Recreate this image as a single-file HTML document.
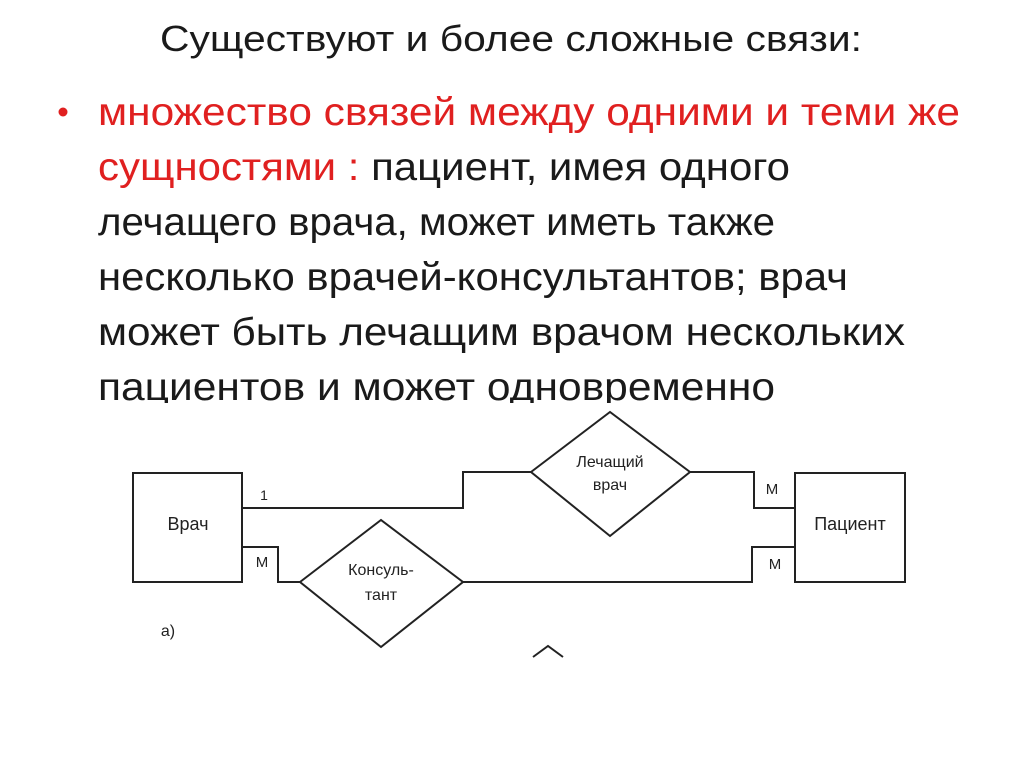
<!DOCTYPE html>
<html><head><meta charset="utf-8"><style>
html,body{margin:0;padding:0;background:#fff;width:1024px;height:767px;overflow:hidden}
svg{display:block}
</style></head><body>
<svg width="1024" height="767" viewBox="0 0 1024 767" xmlns="http://www.w3.org/2000/svg">
<rect width="1024" height="767" fill="#fff"/>
<g font-family="Liberation Sans, sans-serif" fill="#1a1a1a">
<text x="160" y="51" font-size="36" textLength="702" lengthAdjust="spacingAndGlyphs">Существуют и более сложные связи:</text>
<circle cx="63" cy="112" r="4.5" fill="#e02020"/>
<text x="98" y="125" font-size="39" fill="#e02020" textLength="862" lengthAdjust="spacingAndGlyphs">множество связей между одними и теми же</text>
<text x="98" y="180" font-size="39" textLength="692" lengthAdjust="spacingAndGlyphs"><tspan fill="#e02020">сущностями : </tspan><tspan>пациент, имея одного</tspan></text>
<text x="98" y="235" font-size="39" textLength="677" lengthAdjust="spacingAndGlyphs">лечащего врача, может иметь также</text>
<text x="98" y="290" font-size="39" textLength="750" lengthAdjust="spacingAndGlyphs">несколько врачей-консультантов; врач</text>
<text x="98" y="345" font-size="39" textLength="807" lengthAdjust="spacingAndGlyphs">может быть лечащим врачом нескольких</text>
<text x="98" y="400" font-size="39" textLength="677" lengthAdjust="spacingAndGlyphs">пациентов и может одновременно</text>
</g>
<rect x="0" y="403" width="1024" height="364" fill="#fff"/>
<g fill="none" stroke="#222" stroke-width="2">
<rect x="133" y="473" width="109" height="109"/>
<rect x="795" y="473" width="110" height="109"/>
<polygon points="531,472 610,412 690,472 610,536"/>
<polygon points="300,582 381,520 463,582 381,647"/>
<polyline points="242,508 463,508 463,472 531,472"/>
<polyline points="690,472 754,472 754,508 795,508"/>
<polyline points="242,547 278,547 278,582 300,582"/>
<polyline points="463,582 752,582 752,547 795,547"/>
<polyline points="533,657 548,646 563,657"/>
</g>
<g font-family="Liberation Sans, sans-serif" fill="#222" font-size="16" text-anchor="middle">
<text x="188" y="530" font-size="18">Врач</text>
<text x="850" y="530" font-size="18">Пациент</text>
<text x="610" y="467">Лечащий</text>
<text x="610" y="490">врач</text>
<text x="381" y="575">Консуль-</text>
<text x="381" y="600">тант</text>
<text x="264" y="500" font-size="14">1</text>
<text x="262" y="567" font-size="15">M</text>
<text x="772" y="494" font-size="15">M</text>
<text x="775" y="569" font-size="15">M</text>
<text x="168" y="636" font-size="16">а)</text>
</g>
</svg>
</body></html>
